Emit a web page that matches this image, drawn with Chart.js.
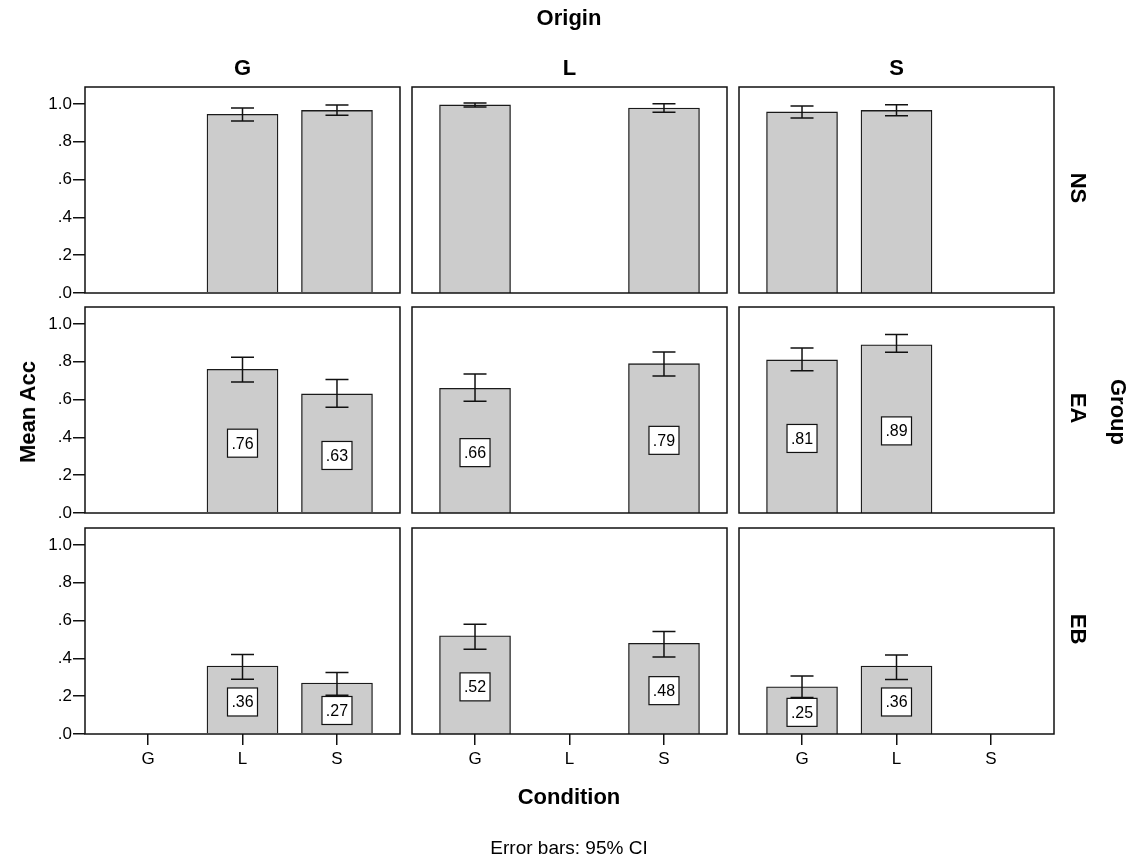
<!DOCTYPE html>
<html>
<head>
<meta charset="utf-8">
<script src="https://cdn.jsdelivr.net/npm/chart.js@4/dist/chart.umd.min.js"></script>
<style>
  html, body { margin: 0; padding: 0; background: #fff; }
  #wrap { position: relative; width: 1136px; height: 859px; overflow: hidden;
          font-family: 'Liberation Sans', Arial, Helvetica, sans-serif; color: #000; }
  #wrap canvas { position: absolute; left: 0; top: 0; }
  .t { position: absolute; white-space: nowrap; line-height: 1; transform: translate(-50%, -50%); }
  .b { font-weight: bold; font-size: 22px; }
  .cw { transform: translate(-50%, -50%) rotate(90deg); }
  .ccw { transform: translate(-50%, -50%) rotate(-90deg); }
  .note { font-size: 19px; }
</style>
</head>
<body>
<div id="wrap"></div>
<script>
// Panel facets
const origins = ['G', 'L', 'S'];        // columns
const groups = ['NS', 'EA', 'EB'];      // rows
const conditions = ['G', 'L', 'S'];     // x categories inside each panel
const yTicks = [0, 0.2, 0.4, 0.6, 0.8, 1.0];

// Mean accuracy, one row per origin (G, L, S), one entry per condition (G, L, S)
const nsMean = [[null, 0.945, 0.966], [0.995, null, 0.979], [0.958, 0.966, null]];
const nsLow  = [[null, 0.910, 0.940], [0.984, null, 0.956], [0.926, 0.938, null]];
const nsHigh = [[null, 0.979, 0.995], [1.006, null, 1.002], [0.989, 0.996, null]];

const eaMean = [[null, 0.76, 0.63], [0.66, null, 0.79], [0.81, 0.89, null]];
const eaLow  = [[null, 0.693, 0.559], [0.591, null, 0.725], [0.753, 0.850, null]];
const eaHigh = [[null, 0.824, 0.707], [0.735, null, 0.852], [0.873, 0.945, null]];

const ebMean = [[null, 0.36, 0.27], [0.52, null, 0.48], [0.25, 0.36, null]];
const ebLow  = [[null, 0.290, 0.205], [0.448, null, 0.408], [0.193, 0.288, null]];
const ebHigh = [[null, 0.420, 0.325], [0.581, null, 0.543], [0.307, 0.418, null]];

const means = [nsMean, eaMean, ebMean];
const lows = [nsLow, eaLow, ebLow];
const highs = [nsHigh, eaHigh, ebHigh];
const labelled = [false, true, true];

// Grid geometry
const W = 1136, H = 859;
const colLeft = [85, 412, 739];
const rowTop = [87, 307, 528];
const panelW = 315, panelH = 206;
const xAxisH = 40;
const FONT = "'Liberation Sans', Arial, Helvetica, sans-serif";

Chart.defaults.font.family = FONT;
Chart.defaults.color = '#000';

const wrap = document.getElementById('wrap');

function addText(txt, x, y, cls) {
  const d = document.createElement('div');
  d.className = 't ' + cls;
  d.style.left = x + 'px';
  d.style.top = y + 'px';
  d.textContent = txt;
  wrap.appendChild(d);
}

// Frame, CI whiskers and value boxes drawn on top of the bars
const panelDecor = {
  id: 'panelDecor',
  afterDatasetsDraw(chart, args, opts) {
    const { ctx, chartArea: a, scales: { x, y } } = chart;
    const pts = chart.data.datasets[0].data;
    ctx.save();
    // error bars
    ctx.strokeStyle = '#111';
    ctx.lineWidth = 1.5;
    pts.forEach(p => {
      const px = x.getPixelForValue(p.x);
      const yl = y.getPixelForValue(p.lo), yh = y.getPixelForValue(p.hi);
      ctx.beginPath();
      ctx.moveTo(px, yl); ctx.lineTo(px, yh);
      ctx.moveTo(px - 11.5, yl); ctx.lineTo(px + 11.5, yl);
      ctx.moveTo(px - 11.5, yh); ctx.lineTo(px + 11.5, yh);
      ctx.stroke();
    });
    // value boxes
    if (opts.labels) {
      ctx.font = '16px ' + FONT;
      ctx.textAlign = 'center';
      ctx.textBaseline = 'middle';
      pts.forEach(p => {
        const px = x.getPixelForValue(p.x);
        const py = y.getPixelForValue(p.y / 2) + 2;
        ctx.fillStyle = '#fff';
        ctx.fillRect(px - 15, py - 14, 30, 28);
        ctx.lineWidth = 1.2;
        ctx.strokeStyle = '#111';
        ctx.strokeRect(px - 15, py - 14, 30, 28);
        ctx.fillStyle = '#000';
        ctx.fillText('.' + String(Math.round(p.y * 100)).padStart(2, '0'), px, py + 1);
      });
    }
    // panel frame
    ctx.lineWidth = 1.5;
    ctx.strokeStyle = '#111';
    ctx.strokeRect(a.left, a.top, a.right - a.left, a.bottom - a.top);
    ctx.restore();
  }
};

groups.forEach((g, r) => {
  origins.forEach((o, c) => {
    const pts = [];
    conditions.forEach((cond, i) => {
      const v = means[r][c][i];
      if (v !== null) pts.push({ x: i, y: v, lo: lows[r][c][i], hi: highs[r][c][i] });
    });

    const cv = document.createElement('canvas');
    cv.width = W; cv.height = H;
    wrap.appendChild(cv);

    const bottomRow = r === groups.length - 1;
    const leftCol = c === 0;

    new Chart(cv, {
      type: 'bar',
      data: {
        datasets: [{
          data: pts,
          backgroundColor: '#cccccc',
          borderColor: '#1a1a1a',
          borderWidth: 1.3,
          barThickness: 71
        }]
      },
      options: {
        responsive: false,
        animation: false,
        events: [],
        layout: {
          padding: {
            left: leftCol ? 0 : colLeft[c],
            top: rowTop[r],
            right: W - colLeft[c] - panelW,
            bottom: H - (rowTop[r] + panelH) - (bottomRow ? xAxisH : 0)
          }
        },
        plugins: {
          legend: { display: false },
          tooltip: { enabled: false },
          panelDecor: { labels: labelled[r] }
        },
        scales: {
          x: {
            type: 'linear',
            min: -0.667,
            max: 2.667,
            offset: false,
            display: bottomRow,
            afterBuildTicks: s => { s.ticks = conditions.map((_, i) => ({ value: i })); },
            afterFit: s => { if (bottomRow) s.height = xAxisH; },
            grid: { offset: false, drawOnChartArea: false, drawTicks: true, tickLength: 11, color: '#111', lineWidth: 1.5 },
            border: { display: false },
            ticks: {
              callback: v => conditions[v],
              font: { size: 17 },
              color: '#000',
              padding: 4,
              maxRotation: 0,
              autoSkip: false
            }
          },
          y: {
            min: 0,
            max: 1.09,
            display: leftCol,
            afterBuildTicks: s => { s.ticks = yTicks.map(v => ({ value: v })); },
            afterFit: s => { if (leftCol) s.width = colLeft[0]; },
            grid: { drawOnChartArea: false, drawTicks: true, tickLength: 12, color: '#111', lineWidth: 1.5 },
            border: { display: false },
            ticks: {
              callback: v => v === 0 ? '.0' : (v === 1 ? '1.0' : '.' + Math.round(v * 10)),
              font: { size: 17 },
              color: '#000',
              padding: 1,
              autoSkip: false
            }
          }
        }
      },
      plugins: [panelDecor]
    });
  });
});

// Facet titles and axis titles
addText('Origin', 569, 18, 'b');
origins.forEach((o, c) => addText(o, colLeft[c] + panelW / 2, 68, 'b'));
groups.forEach((g, r) => addText(g, 1078, rowTop[r] + panelH / 2 - 2, 'b cw'));
addText('Group', 1118, 412, 'b cw');
addText('Mean Acc', 28, 412, 'b ccw');
addText('Condition', 569, 797, 'b');
addText('Error bars: 95% CI', 569, 847, 'note');
</script>
</body>
</html>
